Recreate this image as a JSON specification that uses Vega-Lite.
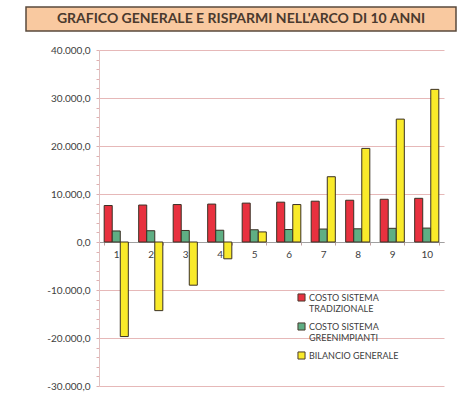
{
  "$schema": "https://vega.github.io/schema/vega-lite/v6.json",
  "padding": {"left": 25, "top": 6, "right": 5, "bottom": 5},
  "background": "white",
  "config": {
    "font": "Lato",
    "view": {"stroke": null},
    "locale": {"number": {"decimal": ",", "thousands": ".", "grouping": [3], "currency": ["€", ""], "minus": "-"}}
  },
  "spacing": 13,
  "vconcat": [
    {
      "width": 430,
      "height": 24,
      "view": {"fill": "#f9c9a0", "stroke": "#5a4a3c", "strokeWidth": 1.5},
      "data": {"values": [{"t": "GRAFICO GENERALE E RISPARMI NELL'ARCO DI 10 ANNI"}]},
      "mark": {"type": "text", "font": "Lato", "fontWeight": "bold", "fontSize": 14, "color": "#4a3a2e"},
      "encoding": {"text": {"field": "t", "type": "nominal"}}
    },
    {
      "spacing": 10,
      "hconcat": [
        {
          "width": 10,
          "height": 336,
          "data": {"values": []},
          "mark": {"type": "point", "opacity": 0},
          "encoding": {}
        },
        {
          "width": 345,
          "height": 336,
          "data": {"values": [
            {"anno": 1, "COSTO SISTEMA TRADIZIONALE": 7600, "COSTO SISTEMA GREENIMPIANTI": 2300, "BILANCIO GENERALE": -19700},
            {"anno": 2, "COSTO SISTEMA TRADIZIONALE": 7700, "COSTO SISTEMA GREENIMPIANTI": 2350, "BILANCIO GENERALE": -14300},
            {"anno": 3, "COSTO SISTEMA TRADIZIONALE": 7800, "COSTO SISTEMA GREENIMPIANTI": 2400, "BILANCIO GENERALE": -9000},
            {"anno": 4, "COSTO SISTEMA TRADIZIONALE": 7900, "COSTO SISTEMA GREENIMPIANTI": 2450, "BILANCIO GENERALE": -3500},
            {"anno": 5, "COSTO SISTEMA TRADIZIONALE": 8100, "COSTO SISTEMA GREENIMPIANTI": 2550, "BILANCIO GENERALE": 2100},
            {"anno": 6, "COSTO SISTEMA TRADIZIONALE": 8300, "COSTO SISTEMA GREENIMPIANTI": 2600, "BILANCIO GENERALE": 7800},
            {"anno": 7, "COSTO SISTEMA TRADIZIONALE": 8500, "COSTO SISTEMA GREENIMPIANTI": 2700, "BILANCIO GENERALE": 13600},
            {"anno": 8, "COSTO SISTEMA TRADIZIONALE": 8700, "COSTO SISTEMA GREENIMPIANTI": 2750, "BILANCIO GENERALE": 19500},
            {"anno": 9, "COSTO SISTEMA TRADIZIONALE": 8900, "COSTO SISTEMA GREENIMPIANTI": 2850, "BILANCIO GENERALE": 25600},
            {"anno": 10, "COSTO SISTEMA TRADIZIONALE": 9100, "COSTO SISTEMA GREENIMPIANTI": 2900, "BILANCIO GENERALE": 31800}
          ]},
          "transform": [{"fold": ["COSTO SISTEMA TRADIZIONALE", "COSTO SISTEMA GREENIMPIANTI", "BILANCIO GENERALE"], "as": ["serie", "valore"]}],
          "mark": {"type": "bar", "stroke": "#3a3024", "strokeWidth": 1},
          "encoding": {
            "x": {
              "field": "anno", "type": "ordinal", "title": null,
              "scale": {"paddingInner": 0.3, "paddingOuter": 0.15},
              "axis": {"orient": "bottom", "offset": -144, "labelAngle": 0, "labelFontSize": 10, "labelColor": "#404040", "labelPadding": 4,
                       "domainColor": "#a0a0a0", "tickColor": "#c0a0a0", "tickSize": 3, "tickBand": "extent", "labelFont": "Lato"}
            },
            "xOffset": {"field": "serie", "type": "nominal", "sort": ["COSTO SISTEMA TRADIZIONALE", "COSTO SISTEMA GREENIMPIANTI", "BILANCIO GENERALE"], "scale": {"paddingInner": 0}},
            "y": {
              "field": "valore", "type": "quantitative", "title": null,
              "scale": {"domain": [-30000, 40000], "nice": false, "zero": true},
              "axis": {
                "values": [-30000, -28000, -26000, -24000, -22000, -20000, -18000, -16000, -14000, -12000, -10000, -8000, -6000, -4000, -2000, 0, 2000, 4000, 6000, 8000, 10000, 12000, 14000, 16000, 18000, 20000, 22000, 24000, 26000, 28000, 30000, 32000, 34000, 36000, 38000, 40000],
                "format": ",.1f",
                "labelExpr": "datum.value % 10000 == 0 ? datum.label : ''",
                "labelOverlap": false,
                "labelFontSize": 10, "labelColor": "#404040", "labelFont": "Lato", "labelPadding": 6,
                "grid": true,
                "gridColor": "#e6b8b8",
                "gridOpacity": {"condition": {"test": "datum.value % 10000 == 0", "value": 1}, "value": 0},
                "domainColor": "#e0c0c0",
                "tickColor": "#e0b0b0", "tickSize": 3
              }
            },
            "color": {
              "field": "serie", "type": "nominal", "title": null,
              "scale": {"domain": ["COSTO SISTEMA TRADIZIONALE", "COSTO SISTEMA GREENIMPIANTI", "BILANCIO GENERALE"], "range": ["#e8313f", "#5fae84", "#f9ea2a"]},
              "legend": {
                "orient": "none", "legendX": 271, "legendY": 286,
                "labelExpr": "datum.label == 'COSTO SISTEMA TRADIZIONALE' ? ['COSTO SISTEMA', 'TRADIZIONALE'] : datum.label == 'COSTO SISTEMA GREENIMPIANTI' ? ['COSTO SISTEMA', 'GREENIMPIANTI'] : datum.label",
                "symbolType": "square", "symbolSize": 50, "symbolStrokeColor": "#4a3a2e", "symbolStrokeWidth": 1,
                "labelFontSize": 9, "labelColor": "#404040", "labelFont": "Lato", "labelLimit": 100,
                "rowPadding": 6, "labelOffset": 3
              }
            }
          }
        }
      ]
    }
  ]
}
